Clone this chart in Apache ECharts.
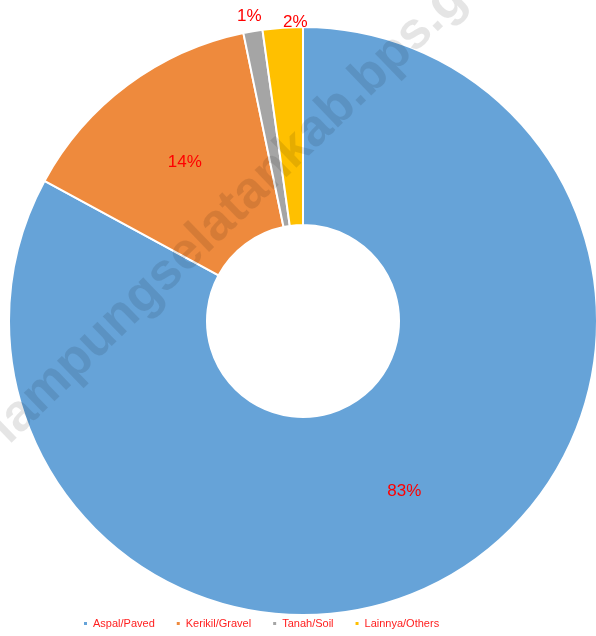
<!DOCTYPE html>
<html><head><meta charset="utf-8">
<script src="https://cdn.jsdelivr.net/npm/echarts@6/dist/echarts.min.js"></script>
<style>html,body{margin:0;padding:0;background:#fff}#c{width:596px;height:636px}</style>
</head><body><div id="c"></div>
<script>
const categories = ['Aspal/Paved', 'Kerikil/Gravel', 'Tanah/Soil', 'Lainnya/Others'];
const values = [82.9, 13.85, 1.05, 2.2];
const labels = ['83%', '14%', '1%', '2%'];
const colors = ['#66A3D8', '#EE8A3D', '#A5A5A5', '#FFC000'];
const labelOffsets = [[0, 0], [0, 0], [-20, -110], [6, -101]];

const chart = echarts.init(document.getElementById('c'), null, {renderer: 'canvas'});
chart.setOption({
  animation: false,
  backgroundColor: '#fff',
  color: colors,
  legend: {
    left: 77, bottom: 2,
    itemWidth: 5, itemHeight: 5, itemGap: 20,
    icon: 'rect',
    textStyle: {color: '#FF2020', fontSize: 11, fontFamily: 'Liberation Sans'},
    data: categories
  },
  series: [{
    type: 'pie',
    center: [303, 321],
    radius: [96, 294],
    startAngle: 90,
    clockwise: true,
    avoidLabelOverlap: false,
    itemStyle: {borderColor: '#fff', borderWidth: 2},
    label: {show: true, position: 'inside', color: '#FF0000', fontSize: 17, fontFamily: 'Liberation Sans'},
    labelLine: {show: false},
    data: categories.map((n, i) => ({
      name: n, value: values[i],
      label: {formatter: labels[i], offset: labelOffsets[i]}
    }))
  }],
  graphic: [{
    type: 'text',
    x: 262, y: 181,
    rotation: 44 * Math.PI / 180,
    z: 100,
    silent: true,
    style: {
      text: 'lampungselatankab.bps.go.id',
      fill: 'rgba(0,0,0,0.1)',
      font: 'bold 52px "Liberation Sans"',
      textAlign: 'center',
      textVerticalAlign: 'middle'
    }
  }]
});
</script></body></html>
